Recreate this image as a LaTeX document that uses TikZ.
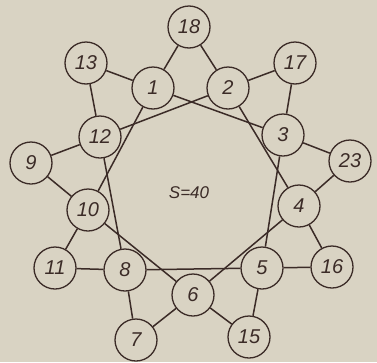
\documentclass[tikz,border=0pt]{standalone}
\usepackage{fontspec}
\setmainfont{Liberation Sans}
\usetikzlibrary{positioning}
\definecolor{StarInk}{HTML}{3B2B27}
\definecolor{StarPaper}{HTML}{D9D3C3}
\tikzset{num/.style={circle,draw=StarInk,fill=StarPaper,line width=1.3pt,
 minimum size=42pt,inner sep=0pt,text=StarInk,font=\itshape\fontsize{20}{22}\selectfont},
 link/.style={draw=StarInk,line width=1.5pt}}
\begin{document}
\begin{tikzpicture}[x=1pt,y=-1pt]
\fill[StarPaper] (0,0) rectangle (377,362);
% inner ring
\foreach \n/\x/\y in {1/153/88,2/228/88,3/283/135,4/299/206,5/262/268,6/193/295,8/125/270,10/88/210,12/100/137}
 {\node[num] (n\n) at (\x,\y) {\n};}
% outer points
\foreach \n/\x/\y in {18/189/27,17/295/63,23/350/161,16/332/267,15/249/337,7/136/340,11/55/268,9/31/163,13/86/63}
 {\node[num] (n\n) at (\x,\y) {\n};}
\foreach \a/\b in {18/1,18/2,17/2,17/3,23/3,23/4,16/4,16/5,15/5,15/6,7/6,7/8,11/8,11/10,9/10,9/12,13/12,13/1,
 1/3,2/4,3/5,4/6,5/8,6/10,8/12,10/1,12/2}
 {\draw[link] (n\a)--(n\b);}
\node[text=StarInk,font=\itshape\fontsize{17}{18}\selectfont] (sum) at (189,193) {S=40};
\end{tikzpicture}
\end{document}
